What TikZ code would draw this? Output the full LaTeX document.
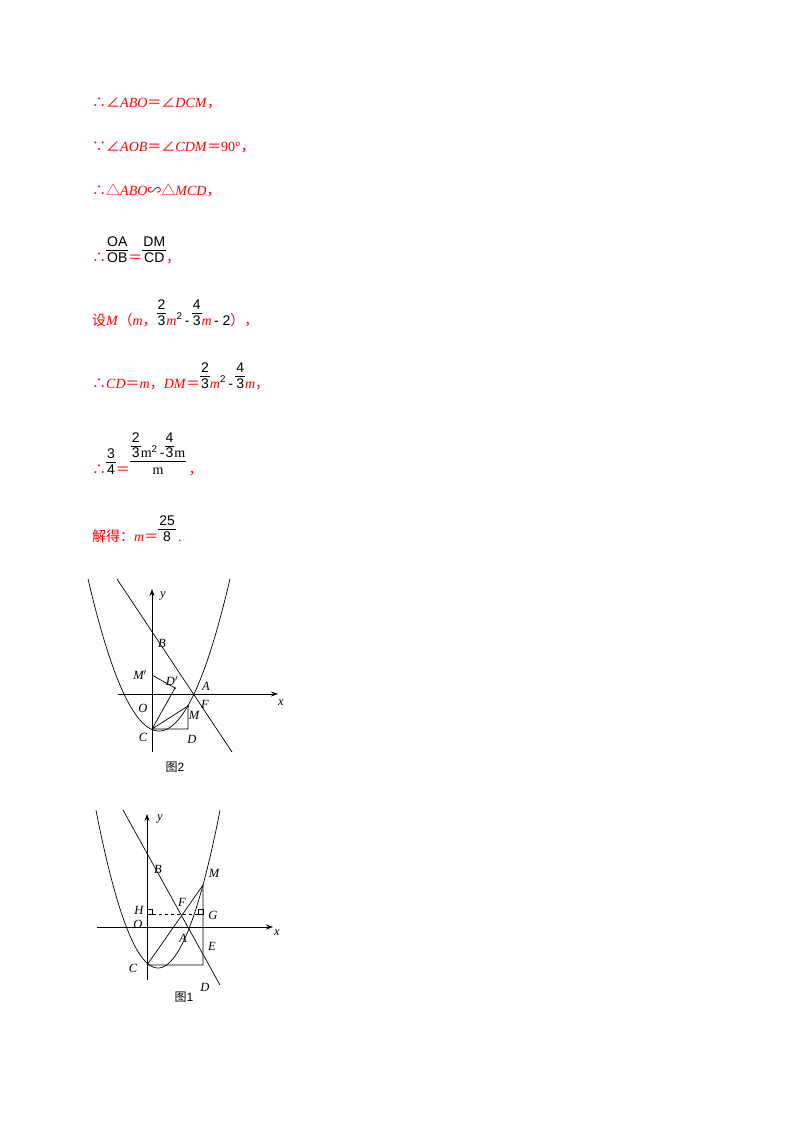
\documentclass[tikz,border=0pt]{standalone}
\usepackage{fontspec}
\setmainfont{Liberation Serif}
\newfontfamily\cjk{Noto Sans CJK SC}
\newfontfamily\fs{Liberation Sans}
\definecolor{ansred}{RGB}{255,0,0}
\newcommand\fr[2]{{\color{black}\fs\renewcommand\arraystretch{0.95}\setlength\tabcolsep{1pt}\begin{tabular}[b]{c}#1\\[-1pt]\hline\noalign{\vskip1pt}#2\end{tabular}}}
\newcommand\cj[1]{{\cjk #1}}
\tikzset{txt/.style={anchor=base west,inner sep=0,text=ansred,font=\fontsize{14}{16}\selectfont},
lab/.style={inner sep=0,font=\fontsize{12.5}{13}\selectfont\itshape},
ln/.style={line width=0.7pt},
ax/.style={line width=0.8pt,-{Stealth[length=7pt,width=5pt]}}}
\usetikzlibrary{arrows.meta}
\begin{document}
\begin{tikzpicture}[x=1pt,y=-1pt]
\useasboundingbox[fill=white] (0,0) rectangle (800,1132);
\node[txt] (t1) at (92,107) {\cj{∴∠}\textit{ABO}\cj{＝∠}\textit{DCM}\cj{，}};
\node[txt] (t2) at (92,151) {\cj{∵∠}\textit{AOB}\cj{＝∠}\textit{CDM}\cj{＝}90°\cj{，}};
\node[txt] (t3) at (92,195) {\cj{∴△}\textit{ABO}\cj{∽△}\textit{MCD}\cj{，}};
\node[txt] (t4) at (92,262) {\cj{∴}\fr{OA}{OB}\cj{＝}\fr{DM}{CD}\cj{，}};
\node[txt] (t5) at (92,325) {\cj{设}\textit{M}\cj{（}\textit{m}\cj{，}\fr{2}{3}\textit{m}\textsuperscript{\fs\color{black}2}\,{\fs\color{black}-}\,\fr{4}{3}\textit{m}\,{\fs\color{black}- 2}\cj{），}};
\node[txt] (t6) at (92,388) {\cj{∴}\textit{CD}\cj{＝}\textit{m}\cj{，}\textit{DM}\cj{＝}\fr{2}{3}\textit{m}\textsuperscript{\fs\color{black}2}\,{\fs\color{black}-}\,\fr{4}{3}\textit{m}\cj{，}};
\node[txt] (t7) at (92,474) {\cj{∴}\fr{3}{4}\cj{＝}\fr{\fr{2}{3}{\rmfamily m}\textsuperscript{2}\,-\fr{4}{3}{\rmfamily m}}{{\rmfamily m}\strut}\,\cj{，}};
\node[txt] (t8) at (92,541) {\cj{解得：}\textit{m}\cj{＝}\fr{25}{8}\,.};
% ---------- Figure 2 ----------
\begin{scope}
\coordinate (O2) at (152,694);
\coordinate (C2) at (152,729);
\coordinate (A2) at (194,694);
\coordinate (B2) at (152,635);
\coordinate (M2) at (188,706);
\coordinate (D2) at (188,729);
\coordinate (Dp) at (175,688);
\coordinate (Mp) at (152,675);
\coordinate (L1) at (117,579);
\coordinate (L2) at (232,752);
\draw[ax] (118,694) -- (278,694);
\draw[ax] (152,752) -- (152,589);
\draw[ln,domain=88:230,samples=80,smooth] plot (\x,{731-0.0302*(\x-159)^2});
\draw[ln] (L1) -- (L2);
\draw[ln] (C2) -- (Dp) (C2) -- (M2) (C2) -- (D2) -- (M2) (Mp) -- (Dp);
\fill (Dp) circle (1pt) (M2) circle (1pt);
\node[lab] (ly2) at (163,596) {y};
\node[lab] (lB2) at (162,643) {B};
\node[lab] (lMp) at (140,675) {M$'$};
\node[lab] (lDp) at (172,681) {D$'$};
\node[lab] (lA2) at (206,686) {A};
\node[lab] (lO2) at (143,708) {O};
\node[lab] (lF2) at (205,704) {F};
\node[lab] (lM2) at (194,715) {M};
\node[lab] (lC2) at (143,737) {C};
\node[lab] (lD2) at (192,739) {D};
\node[lab] (lx2) at (281,703) {x};
\node[inner sep=0,font=\fontsize{12}{13}\selectfont] (cap2) at (175,767) {\cjk 图\fs 2};
\end{scope}
% ---------- Figure 1 ----------
\begin{scope}
\coordinate (O1) at (147,927);
\coordinate (C1) at (147,965);
\coordinate (A1) at (188,927);
\coordinate (B1) at (147,853);
\coordinate (M1) at (203,885);
\coordinate (D1) at (203,965);
\coordinate (E1) at (203,954);
\coordinate (G1) at (203,914);
\coordinate (H1) at (147,914);
\coordinate (F1) at (181,914);
\coordinate (K1) at (123,810);
\coordinate (K2) at (220,985);
\draw[ax] (97,927) -- (273,927);
\draw[ax] (147,980) -- (147,814);
\draw[ln,domain=96:220,samples=80,smooth] plot (\x,{968-0.041*(\x-158)^2});
\draw[ln] (K1) -- (K2);
\draw[ln] (C1) -- (M1) -- (D1) -- (C1);
\draw[ln,dashed] (H1) -- (G1);
\draw[line width=0.6pt] (147,914) rectangle (152,909) (203,914) rectangle (198,909);
\node[lab] (ly1) at (160,819) {y};
\node[lab] (lB1) at (158,869) {B};
\node[lab] (lM1) at (214,873) {M};
\node[lab] (lH1) at (139,910) {H};
\node[lab] (lF1) at (182,902) {F};
\node[lab] (lG1) at (213,915) {G};
\node[lab] (lO1) at (138,924) {O};
\node[lab] (lA1) at (183,938) {A};
\node[lab] (lE1) at (212,946) {E};
\node[lab] (lC1) at (133,968) {C};
\node[lab] (lD1) at (205,987) {D};
\node[lab] (lx1) at (277,933) {x};
\node[inner sep=0,font=\fontsize{12}{13}\selectfont] (cap1) at (184,997) {\cjk 图\fs 1};
\end{scope}
\end{tikzpicture}
\end{document}
